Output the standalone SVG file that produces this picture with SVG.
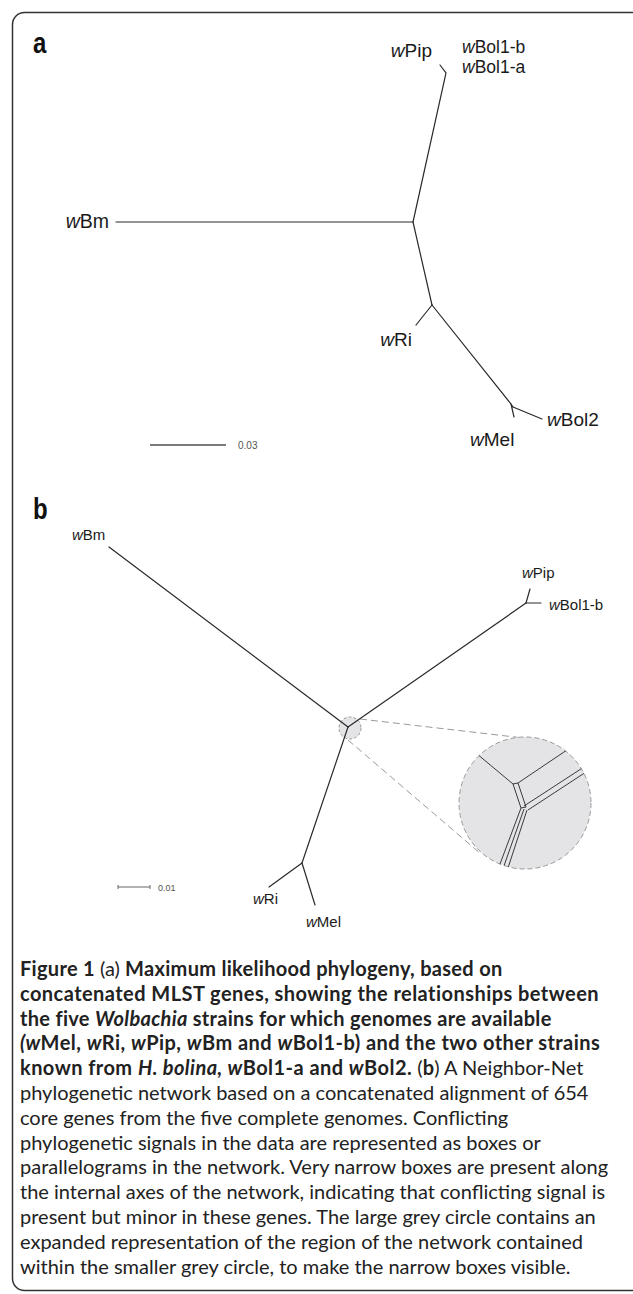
<svg xmlns="http://www.w3.org/2000/svg" width="633" height="1294" viewBox="0 0 633 1294">
<style>
.lbl{font-family:"Liberation Sans",Arial,sans-serif;fill:#1a1a1a}
.pl{font-family:"Liberation Sans",Arial,sans-serif;font-weight:bold;font-size:30px;fill:#111}
.br{fill:none;stroke:#2a2a2a;stroke-width:1.2;stroke-linecap:round}
.cap{font-family:Lato,"Open Sans",sans-serif;font-size:20px;fill:#222}
.b{font-weight:bold;letter-spacing:0.3px}
.b2{font-weight:bold;letter-spacing:0.45px}
.sc{font-family:"Liberation Sans",Arial,sans-serif;fill:#555}
.dash{fill:none;stroke:#9a9a9a;stroke-width:1;stroke-dasharray:7,4}
</style>
<defs>
<clipPath id="bigc"><circle cx="525" cy="803" r="66"/></clipPath>
</defs>
<rect x="12.5" y="12.5" width="650" height="1278" rx="12" fill="none" stroke="#333" stroke-width="1.5"/>

<!-- Panel a -->
<g id="panel-a-label"><text class="pl" transform="translate(33,53) scale(0.8,1)">a</text></g>
<g id="connectors-a">
<path class="br" d="M116,222 H413"/>
<path class="br" d="M413,222 L446,73 L440,65"/>
<path class="br" d="M413,222 L432,305"/>
<path class="br" d="M432,305 L416,325"/>
<path class="br" d="M432,305 L511,404 L513,407"/>
<path class="br" d="M511,404 L514,417"/>
<path class="br" d="M513,407 L542,419"/>
</g>
<g id="a-wPip"><text class="lbl" x="432" y="57" font-size="19" text-anchor="end"><tspan font-style="italic">w</tspan>Pip</text></g>
<g id="a-wBol1b"><text class="lbl" x="462" y="53" font-size="17.5"><tspan font-style="italic">w</tspan>Bol1-b</text></g>
<g id="a-wBol1a"><text class="lbl" x="462" y="72.5" font-size="17.5"><tspan font-style="italic">w</tspan>Bol1-a</text></g>
<g id="a-wBm"><text class="lbl" x="109" y="228" font-size="19.5" text-anchor="end"><tspan font-style="italic">w</tspan>Bm</text></g>
<g id="a-wRi"><text class="lbl" x="412" y="346" font-size="19" text-anchor="end"><tspan font-style="italic">w</tspan>Ri</text></g>
<g id="a-wMel"><text class="lbl" x="470" y="446" font-size="19"><tspan font-style="italic">w</tspan>Mel</text></g>
<g id="a-wBol2"><text class="lbl" x="547" y="426" font-size="19"><tspan font-style="italic">w</tspan>Bol2</text></g>
<g id="a-scale">
<path d="M150,445 H226" stroke="#7a7a7a" stroke-width="2"/>
<text class="sc" x="238" y="449" font-size="10">0.03</text>
</g>

<!-- Panel b -->
<g id="panel-b-label"><text class="pl" transform="translate(33,519) scale(0.8,1)">b</text></g>
<g id="zoom-circles">
<path class="dash" d="M360,719 L532,739"/>
<path class="dash" d="M348,740 L481,854"/>
<circle cx="350" cy="728" r="11" fill="#e4e4e7" stroke="#9a9a9a" stroke-width="1" stroke-dasharray="3,2"/>
<circle cx="525" cy="803" r="66" fill="#e4e4e7" stroke="#9a9a9a" stroke-width="1" stroke-dasharray="5,3"/>
</g>
<g id="connectors-b">
<path class="br" stroke-width="1" d="M109,547 L348,727"/>
<path class="br" stroke-width="2.4" d="M348,727 L526,603"/>
<path class="br" stroke-width="1" d="M526,603 L530,589"/>
<path class="br" stroke-width="1" d="M526,603 L541,603"/>
<path class="br" stroke-width="2" d="M348,727 L302,863"/>
<path class="br" stroke-width="1" d="M302,863 L269,887"/>
<path class="br" stroke-width="1" d="M302,863 L315,905"/>
</g>
<g id="zoom-detail" clip-path="url(#bigc)" fill="none" stroke="#3a3a3a" stroke-width="1">
<path d="M440,723 L513,784"/>
<path d="M513,784 L518,783 L526,807 L521,808 Z"/>
<path d="M518,783 L610,721"/>
<path d="M524,806 L610,750"/>
<path d="M528,810 L612,755"/>
<path d="M521,808 L494,880"/>
<path d="M524,809 L499,880"/>
<path d="M527,810 L504,880"/>
</g>
<g id="b-wBm"><text class="lbl" x="72" y="540" font-size="15"><tspan font-style="italic">w</tspan>Bm</text></g>
<g id="b-wPip"><text class="lbl" x="522" y="578" font-size="15"><tspan font-style="italic">w</tspan>Pip</text></g>
<g id="b-wBol1b"><text class="lbl" x="549" y="610" font-size="15"><tspan font-style="italic">w</tspan>Bol1-b</text></g>
<g id="b-wRi"><text class="lbl" x="278" y="904" font-size="15" text-anchor="end"><tspan font-style="italic">w</tspan>Ri</text></g>
<g id="b-wMel"><text class="lbl" x="306" y="927" font-size="15"><tspan font-style="italic">w</tspan>Mel</text></g>
<g id="b-scale">
<path d="M118,887 H150 M118,885 V889 M150,885 V889" stroke="#666" stroke-width="1"/>
<text class="sc" x="158" y="891" font-size="9">0.01</text>
</g>

<!-- Caption -->
<g id="caption" class="cap">
<text x="20" y="976"><tspan class="b">Figure 1</tspan> (a) <tspan class="b">Maximum likelihood phylogeny, based on</tspan></text>
<text x="20" y="1000.8" class="b2">concatenated MLST genes, showing the relationships between</text>
<text x="20" y="1025.6" class="b">the five <tspan font-style="italic">Wolbachia</tspan> strains for which genomes are available</text>
<text x="20" y="1050.4" class="b2"><tspan font-style="italic">(w</tspan>Mel, <tspan font-style="italic">w</tspan>Ri, <tspan font-style="italic">w</tspan>Pip, <tspan font-style="italic">w</tspan>Bm and <tspan font-style="italic">w</tspan>Bol1-b) and the two other strains</text>
<text x="20" y="1075.2"><tspan class="b2">known from <tspan font-style="italic">H. bolina, w</tspan>Bol1-a and <tspan font-style="italic">w</tspan>Bol2.</tspan> (<tspan class="b">b</tspan>) A Neighbor-Net</text>
<text x="20" y="1100">phylogenetic network based on a concatenated alignment of 654</text>
<text x="20" y="1124.8">core genes from the five complete genomes. Conflicting</text>
<text x="20" y="1149.6">phylogenetic signals in the data are represented as boxes or</text>
<text x="20" y="1174.4">parallelograms in the network. Very narrow boxes are present along</text>
<text x="20" y="1199.2">the internal axes of the network, indicating that conflicting signal is</text>
<text x="20" y="1224">present but minor in these genes. The large grey circle contains an</text>
<text x="20" y="1248.8">expanded representation of the region of the network contained</text>
<text x="20" y="1273.6">within the smaller grey circle, to make the narrow boxes visible.</text>
</g>
</svg>
